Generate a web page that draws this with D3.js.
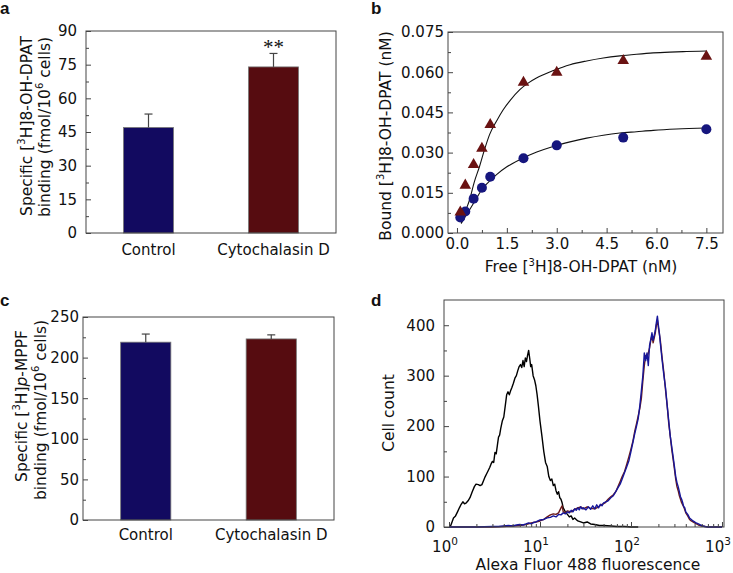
<!DOCTYPE html>
<html><head><meta charset="utf-8">
<script src="https://cdn.jsdelivr.net/npm/d3@7"></script>
<style>body{margin:0;background:#fff}svg{display:block}text{font-family:"DejaVu Sans",Verdana,sans-serif;fill:#111}</style>
</head><body><svg id="c" width="733" height="573"></svg>
<script>
// ---------- data ----------
const groups = ["Control", "Cytochalasin D"];
const dpatBinding = [47, 74];          // panel a means
const dpatError = [6, 6];              // panel a SEM
const mppfBinding = [219, 223];        // panel c means
const mppfError = [10, 5];             // panel c SEM

const freeConc = [0.1, 0.25, 0.5, 0.75, 1.0, 2.0, 3.0, 5.0, 7.5];
const boundControl = [0.0058, 0.0080, 0.0128, 0.0169, 0.0210, 0.0279, 0.0327, 0.0356, 0.0387];
const boundCytoD = [0.0078, 0.0178, 0.0255, 0.0316, 0.0404, 0.0562, 0.0599, 0.0643, 0.0659];
// fitted saturation curves
const fitCytoX = [0.13, 0.25, 0.38, 0.52, 0.68, 0.83, 0.98, 1.2, 1.39, 1.6, 1.89, 2.15, 2.39, 2.9, 3.4, 3.9, 4.4, 4.9, 5.4, 5.9, 6.4, 6.9, 7.5];
const fitCytoY = [0.0035, 0.0080, 0.0124, 0.0190, 0.0249, 0.0312, 0.0367, 0.0420, 0.0460, 0.0495, 0.0535, 0.0560, 0.0578, 0.0606, 0.0628, 0.0642, 0.0653, 0.0661, 0.0667, 0.0672, 0.0675, 0.0677, 0.0679];
const fitCtrlX = [0.13, 0.25, 0.38, 0.55, 0.78, 1.0, 1.19, 1.5, 1.89, 2.4, 2.89, 3.4, 3.9, 4.4, 4.9, 5.4, 5.9, 6.6, 7.5];
const fitCtrlY = [0.0037, 0.0062, 0.0087, 0.0122, 0.0168, 0.0196, 0.0218, 0.0247, 0.0274, 0.0302, 0.0323, 0.0340, 0.0354, 0.0365, 0.0373, 0.0378, 0.0383, 0.0388, 0.0392];

// panel d histograms
const isoX = [1.03,1.08,1.12,1.18,1.24,1.3,1.36,1.42,1.48,1.55,1.62,1.7,1.8,1.9,1.98,2.1,2.2,2.3,2.4,2.5,2.6,2.7,2.8,2.9,3.0,3.1,3.2,3.3,3.4,3.5,3.6,3.7,3.85,4.0,4.15,4.3,4.45,4.6,4.75,4.9,5.1,5.3,5.5,5.7,5.9,6.1,6.3,6.5,6.7,6.9,7.1,7.3,7.5,7.7,7.9,8.1,8.4,8.7,9.0,9.3,9.6,10,10.5,11,11.5,12,12.5,13,13.5,14,14.5,15,15.5,16,16.5,17,17.5,18,19,20,21,22,23,24,26,28,30,33,36,40,45,50,60,70,85,100,120];
const isoY = [0,10,18,22,30,38,45,50,46,48,52,58,70,80,85,84,82,84,92,100,106,112,118,125,130,128,148,145,162,178,182,195,210,218,240,262,268,262,270,276,285,295,300,310,318,322,316,330,318,335,328,340,350,335,318,322,300,292,280,262,240,210,180,150,128,120,100,92,95,82,85,72,65,70,58,55,48,38,30,25,20,22,15,18,12,10,8,10,6,5,3,3,2,1,1,0,0];
const ctrlX = [1.0,2,3,3.5,4,4.5,5,5.5,6,6.5,7,7.5,8,8.5,9,9.5,10,11,12,13,14,15,16,17,18,19,20,21,22,23,24,25,26,27,28,29,30,32,34,36,38,40,42,44,46,48,50,53,56,60,64,68,72,76,80,85,90,95,100,105,110,115,120,125,130,135,140,145,150,155,160,165,170,175,180,185,190,195,200,205,210,220,230,240,250,260,270,280,290,300,310,320,330,340,350,360,370,380,390,400,420,440,460,480,500,520,550,580,620,650,700,1000];
const ctrlY = [0,0,1,1,2,3,2,4,5,4,6,8,6,9,10,12,14,15,18,19,22,20,25,24,28,26,30,28,33,30,36,33,38,34,40,36,38,34,40,35,42,36,44,38,45,42,48,50,52,58,62,70,78,85,95,108,120,132,150,168,185,200,215,240,270,300,345,330,345,320,360,372,385,370,380,390,405,418,400,385,365,330,300,275,240,210,180,160,140,120,100,88,80,70,60,55,48,40,38,30,25,18,15,12,10,8,6,4,2,1,0,0];
const cytoX = [1.0,3,4,5,6,7,8,9,10,11,12,13,14,15,16,17,17.5,18,19,20,22,24,26,28,30,33,36,40,44,48,52,56,60,64,68,72,76,80,85,90,95,100,105,110,115,120,125,130,135,140,145,150,160,165,170,175,180,185,190,195,200,210,220,230,240,250,260,270,280,290,300,310,320,330,340,350,360,380,400,420,440,460,500,550,600,650,700,1000];
const cytoY = [0,0,1,2,3,5,8,10,12,15,20,24,26,25,28,38,42,30,28,32,30,35,38,40,36,40,37,36,40,45,48,55,60,64,70,80,90,100,110,125,140,155,170,190,205,220,235,255,290,320,340,335,355,370,380,365,375,385,400,410,395,370,335,305,270,240,205,180,155,135,115,95,80,72,62,55,48,40,28,22,15,12,8,4,2,1,0,0];

// ---------- helpers ----------
const svg = d3.select("#c");
const FRAME = "#444";

function frame(g, x0, y0, x1, y1) {
  g.append("rect").attr("x", x0).attr("y", y0).attr("width", x1 - x0).attr("height", y1 - y0)
    .attr("fill", "none").attr("stroke", FRAME).attr("stroke-width", 1);
}
function styleAxis(a) {
  a.select(".domain").remove();
  a.selectAll("line").attr("stroke", FRAME);
  a.selectAll("text").style("font-size", "15px").style("font-family", '"DejaVu Sans",Verdana,sans-serif').attr("fill", "#111");
}
function panelLabel(t, x, y) {
  svg.append("text").attr("x", x).attr("y", y).text(t)
    .style("font-family", '"Liberation Sans",Arial,sans-serif').style("font-weight", "bold").style("font-size", "17px");
}
function richText(sel, parts) {
  parts.forEach(p => {
    const ts = sel.append("tspan").text(p.t);
    if (p.sup) ts.attr("dy", -6).style("font-size", "10px");
    if (p.after) ts.attr("dy", 6);
    if (p.it) ts.style("font-style", "italic");
  });
}
function vTitle(cx, cy, parts) {
  const t = svg.append("text").attr("transform", `translate(${cx},${cy}) rotate(-90)`)
    .attr("text-anchor", "middle").attr("dominant-baseline", "central").style("font-size", "15.5px");
  richText(t, parts);
}
function hTitle(cx, y, parts) {
  const t = svg.append("text").attr("x", cx).attr("y", y).attr("text-anchor", "middle").style("font-size", "15.5px");
  richText(t, parts);
}

function barPanel(cfg) {
  const { x0, x1, y0, y1, max, step, values, errors, pad, labelY } = cfg;
  const g = svg.append("g");
  const x = d3.scaleBand().domain(groups).range([x0, x1]).paddingInner(0.6).paddingOuter(0.3);
  const y = d3.scaleLinear().domain([0, max]).range([y1, y0]);
  const colors = ["#120a60", "#560c10"];
  g.selectAll("rect.bar").data(groups).join("rect").attr("class", "bar")
    .attr("x", d => x(d)).attr("width", x.bandwidth())
    .attr("y", (d, i) => y(values[i])).attr("height", (d, i) => y1 - y(values[i]))
    .attr("fill", (d, i) => colors[i]).attr("stroke", "#777").attr("stroke-width", 0.8);
  groups.forEach((d, i) => {
    const cx = x(d) + x.bandwidth() / 2;
    g.append("line").attr("x1", cx).attr("x2", cx).attr("y1", y(values[i])).attr("y2", y(values[i] + errors[i])).attr("stroke", "#444").attr("stroke-width", 1.2);
    g.append("line").attr("x1", cx - 4).attr("x2", cx + 4).attr("y1", y(values[i] + errors[i])).attr("y2", y(values[i] + errors[i])).attr("stroke", "#444").attr("stroke-width", 1.2);
  });
  const ay = g.append("g").attr("transform", `translate(${x0},0)`)
    .call(d3.axisLeft(y).tickValues(d3.range(0, max + 0.001, step)).tickSize(-5).tickPadding(pad));
  styleAxis(ay);
  const am = g.append("g").attr("transform", `translate(${x0},0)`)
    .call(d3.axisLeft(y).tickValues(d3.range(step / 2, max, step)).tickSize(-3).tickFormat(""));
  styleAxis(am);
  g.selectAll("text.cat").data(groups).join("text").attr("class", "cat")
    .attr("x", d => x(d) + x.bandwidth() / 2).attr("y", labelY).attr("text-anchor", "middle")
    .style("font-size", "15px").text(d => d);
  frame(g, x0, y0, x1, y1);
  return { g, x, y };
}

// ---------- panel a ----------
const pa = barPanel({ x0: 86, x1: 336, y0: 31, y1: 233, max: 90, step: 15, values: dpatBinding, errors: dpatError, pad: 9, labelY: 255 });
pa.g.append("text").attr("x", pa.x(groups[1]) + pa.x.bandwidth() / 2).attr("y", 54).attr("text-anchor", "middle")
  .style("font-family", '"Liberation Serif","Times New Roman",serif').style("font-size", "21px").attr("fill", "#222").text("**");
vTitle(27, 126, [{ t: "Specific [" }, { t: "3", sup: true }, { t: "H]8-OH-DPAT", after: true }]);
vTitle(45, 127, [{ t: "binding (fmol/10" }, { t: "6", sup: true }, { t: " cells)", after: true }]);
panelLabel("a", 0, 14);

// ---------- panel c ----------
barPanel({ x0: 83, x1: 334, y0: 317, y1: 520, max: 250, step: 50, values: mppfBinding, errors: mppfError, pad: 4, labelY: 540 });
vTitle(22, 406, [{ t: "Specific [" }, { t: "3", sup: true }, { t: "H]", after: true }, { t: "p", it: true }, { t: "-MPPF" }]);
vTitle(41, 410, [{ t: "binding (fmol/10" }, { t: "6", sup: true }, { t: " cells)", after: true }]);
panelLabel("c", 0, 306);

// ---------- panel b ----------
(function () {
  const x0 = 448, x1 = 723, y0 = 32, y1 = 233;
  const g = svg.append("g");
  const x = d3.scaleLinear().domain([-0.27, 8.0]).range([x0, x1]);
  const y = d3.scaleLinear().domain([0, 0.075]).range([y1, y0]);
  const line = d3.line().x(d => x(d[0])).y(d => y(d[1])).curve(d3.curveMonotoneX);
  g.append("path").datum(fitCytoX.map((v, i) => [v, fitCytoY[i]])).attr("d", line).attr("fill", "none").attr("stroke", "#111").attr("stroke-width", 1.1);
  g.append("path").datum(fitCtrlX.map((v, i) => [v, fitCtrlY[i]])).attr("d", line).attr("fill", "none").attr("stroke", "#111").attr("stroke-width", 1.1);
  g.selectAll("circle.c").data(freeConc).join("circle").attr("class", "c")
    .attr("cx", d => x(d)).attr("cy", (d, i) => y(boundControl[i])).attr("r", 5).attr("fill", "#16167e");
  const tri = d3.symbol().type(d3.symbolTriangle).size(58);
  g.selectAll("path.t").data(freeConc).join("path").attr("class", "t")
    .attr("transform", (d, i) => `translate(${x(d)},${y(boundCytoD[i])})`).attr("d", tri).attr("fill", "#6a1212");
  const ax = g.append("g").attr("transform", `translate(0,${y1})`)
    .call(d3.axisBottom(x).tickValues(d3.range(0, 7.51, 1.5)).tickSize(-5).tickPadding(5).tickFormat(d3.format(".1f")));
  styleAxis(ax);
  const axm = g.append("g").attr("transform", `translate(0,${y1})`)
    .call(d3.axisBottom(x).tickValues(d3.range(0.75, 7.6, 1.5)).tickSize(-3).tickFormat(""));
  styleAxis(axm);
  const ay = g.append("g").attr("transform", `translate(${x0},0)`)
    .call(d3.axisLeft(y).tickValues(d3.range(0, 0.0751, 0.015)).tickSize(-5).tickPadding(4).tickFormat(d3.format(".3f")));
  styleAxis(ay);
  const aym = g.append("g").attr("transform", `translate(${x0},0)`)
    .call(d3.axisLeft(y).tickValues(d3.range(0.0075, 0.075, 0.015)).tickSize(-3).tickFormat(""));
  styleAxis(aym);
  frame(g, x0, y0, x1, y1);
  vTitle(386, 136, [{ t: "Bound [" }, { t: "3", sup: true }, { t: "H]8-OH-DPAT (nM)", after: true }]);
  hTitle(581, 272, [{ t: "Free [" }, { t: "3", sup: true }, { t: "H]8-OH-DPAT (nM)", after: true }]);
  panelLabel("b", 371, 14);
})();

// ---------- panel d ----------
(function () {
  const x0 = 444, x1 = 724, y0 = 300, y1 = 527;
  const g = svg.append("g");
  const x = d3.scaleLog().domain([0.881, 1052]).range([x0, x1]);
  const y = d3.scaleLinear().domain([0, 450]).range([y1, y0]);
  const line = d3.line().x(d => x(d[0])).y(d => y(d[1]));
  const series = [[isoX, isoY, "#000"], [cytoX, cytoY, "#6a1a1a"], [ctrlX, ctrlY, "#16169a"]];
  series.forEach(([xs, ys, c]) => {
    g.append("path").datum(xs.map((v, i) => [v, ys[i]])).attr("d", line)
      .attr("fill", "none").attr("stroke", c).attr("stroke-width", 1.4).attr("stroke-linejoin", "round");
  });
  const majors = [1, 10, 100, 1000];
  const minors = [];
  [1, 10, 100].forEach(b => { for (let k = 2; k <= 9; k++) minors.push(b * k); });
  const ax = g.append("g").attr("transform", `translate(0,${y1})`)
    .call(d3.axisBottom(x).tickValues(majors).tickSize(-5).tickFormat(""));
  styleAxis(ax);
  const axm = g.append("g").attr("transform", `translate(0,${y1})`)
    .call(d3.axisBottom(x).tickValues(minors).tickSize(-3).tickFormat(""));
  styleAxis(axm);
  majors.forEach((m, i) => {
    const t = g.append("text").attr("x", x(m) - 4).attr("y", 552).attr("text-anchor", "middle").style("font-size", "15px");
    t.append("tspan").text("10");
    t.append("tspan").text(String(i)).attr("dy", -7).style("font-size", "10.5px");
  });
  const ay = g.append("g").attr("transform", `translate(${x0},0)`)
    .call(d3.axisLeft(y).tickValues([0, 100, 200, 300, 400]).tickSize(-5).tickPadding(9));
  styleAxis(ay);
  const aym = g.append("g").attr("transform", `translate(${x0},0)`)
    .call(d3.axisLeft(y).tickValues([50, 150, 250, 350]).tickSize(-3).tickFormat(""));
  styleAxis(aym);
  frame(g, x0, y0, x1, y1);
  vTitle(389, 413, [{ t: "Cell count" }]);
  hTitle(588, 570, [{ t: "Alexa Fluor 488 fluorescence" }]);
  panelLabel("d", 371, 306);
})();
</script></body></html>
